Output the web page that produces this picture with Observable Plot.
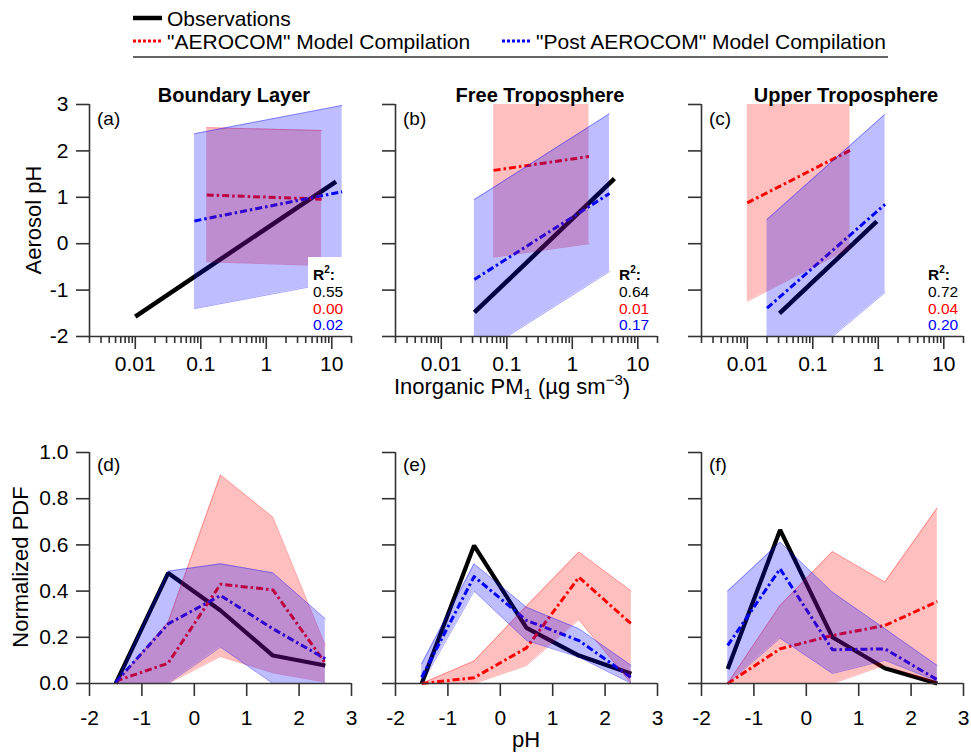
<!DOCTYPE html>
<html><head><meta charset="utf-8">
<script src="https://cdn.jsdelivr.net/npm/d3@7"></script>
<script src="https://cdn.jsdelivr.net/npm/@observablehq/plot@0.6"></script>
<style>
html,body{margin:0;padding:0;background:#fff;}
#root{position:relative;width:971px;height:752px;overflow:hidden;background:#fff;}
</style></head>
<body><div id="root"></div>
<script>
// ---------------- DATA ----------------
const regions = ["Boundary Layer", "Free Troposphere", "Upper Troposphere"];
const topLetters = ["(a)", "(b)", "(c)"];
const botLetters = ["(d)", "(e)", "(f)"];
const legendLabels = ["Observations", "\"AEROCOM\" Model Compilation", "\"Post AEROCOM\" Model Compilation"];
const r2Obs = ["0.55", "0.64", "0.72"];
const r2Aero = ["0.00", "0.01", "0.04"];
const r2Post = ["0.02", "0.17", "0.20"];

// Top row: linear fits of pH vs log10(inorganic PM1), endpoints per panel
const obsPM  = [[0.01, 11.6], [0.032, 4.4], [0.031, 0.95]];
const obsPH  = [[-1.57, 1.34], [-1.48, 1.40], [-1.50, 0.48]];
const aeroPM = [[0.123, 7.0], [0.063, 1.8], [0.010, 0.37]];
const aeroPH = [[1.05, 0.96], [1.58, 1.88], [0.88, 2.01]];
const aeroLo = [[-0.39, -0.47], [-0.29, 0.00], [-1.24, -0.10]];
const aeroHi = [[2.50, 2.44], [3.10, 3.10], [3.10, 3.10]];
const postPM = [[0.08, 14.4], [0.032, 3.7], [0.020, 1.27]];
const postPH = [[0.49, 1.12], [-0.77, 1.08], [-1.39, 0.85]];
const postLo = [[-1.40, -0.80], [-2.45, -0.60], [-3.19, -1.05]];
const postHi = [[2.37, 2.98], [0.95, 2.80], [0.52, 2.79]];

// Bottom row: normalized PDFs of pH
const pHBins = [-1.5, -0.5, 0.5, 1.5, 2.5];
const pdfObs    = [[0.00, 0.478, 0.316, 0.121, 0.078], [0.00, 0.597, 0.241, 0.121, 0.042], [0.063, 0.665, 0.200, 0.066, 0.00]];
const pdfAero   = [[0.01, 0.088, 0.430, 0.405, 0.088], [0.00, 0.025, 0.154, 0.460, 0.258], [0.00, 0.150, 0.208, 0.251, 0.355]];
const pdfAeroLo = [[0.00, 0.000, 0.117, 0.046, 0.006], [0.00, 0.000, 0.078, 0.276, 0.000], [0.00, 0.000, 0.000, 0.080, 0.000]];
const pdfAeroHi = [[0.00, 0.265, 0.903, 0.720, 0.165], [0.00, 0.097, 0.335, 0.569, 0.400], [0.00, 0.338, 0.571, 0.439, 0.760]];
const pdfPost   = [[0.005, 0.258, 0.381, 0.237, 0.107], [0.027, 0.463, 0.273, 0.186, 0.025], [0.165, 0.496, 0.146, 0.150, 0.016]];
const pdfPostLo = [[0.00, 0.000, 0.157, 0.000, 0.000], [0.00, 0.400, 0.186, 0.114, 0.000], [0.00, 0.196, 0.043, 0.100, 0.010]];
const pdfPostHi = [[0.00, 0.486, 0.518, 0.479, 0.280], [0.085, 0.518, 0.330, 0.237, 0.078], [0.40, 0.612, 0.395, 0.237, 0.078]];

// Axis ticks
const pmDomain = [0.002, 20];
const pmMajor = [0.01, 0.1, 1, 10];
const pmMinor = [0.002,0.003,0.004,0.005,0.006,0.007,0.008,0.009,0.02,0.03,0.04,0.05,0.06,0.07,0.08,0.09,
                 0.2,0.3,0.4,0.5,0.6,0.7,0.8,0.9,2,3,4,5,6,7,8,9,20];
const phTopTicks = [-2, -1, 0, 1, 2, 3];
const phBotTicks = [-2, -1, 0, 1, 2, 3];
const pdfTicks = [0, 0.2, 0.4, 0.6, 0.8, 1.0];

// ---------------- LAYOUT ----------------
const root = document.getElementById("root");
const FONT = '"Liberation Sans", Arial, Helvetica, sans-serif';
const FW = 262, ML = 80, MR = 16, MT = 10, MB = 50;
const frameLeft = [89, 395, 701];
const topFrameTop = 104, topFrameH = 232;
const botFrameTop = 452, botFrameH = 231;
const AX = "#333";
const RED = "#ff0000", BLUE = "#0000ff";
const DASH = "7,3,2.5,3";

function place(svg, left, top) {
  svg.style.position = "absolute";
  svg.style.left = left + "px";
  svg.style.top = top + "px";
  root.appendChild(svg);
}
const plotStyle = {background: "transparent", overflow: "visible", fontFamily: FONT, fontSize: "21px", color: "#000"};

function bandMarks(data, color, op, edgeOp) {
  return [
    Plot.areaY(data, {x: "x", y1: "lo", y2: "hi", fill: color, fillOpacity: op, clip: true}),
    Plot.line(data, {x: "x", y: "lo", stroke: color, strokeOpacity: edgeOp, strokeWidth: 1, clip: true}),
    Plot.line(data, {x: "x", y: "hi", stroke: color, strokeOpacity: edgeOp, strokeWidth: 1, clip: true})
  ];
}

function topPanel(i) {
  const obs = obsPM[i].map((x, j) => ({x, y: obsPH[i][j]}));
  const aero = aeroPM[i].map((x, j) => ({x, y: aeroPH[i][j], lo: aeroLo[i][j], hi: aeroHi[i][j]}));
  const post = postPM[i].map((x, j) => ({x, y: postPH[i][j], lo: postLo[i][j], hi: postHi[i][j]}));
  return Plot.plot({
    width: ML + FW + MR, height: MT + topFrameH + MB,
    marginLeft: ML, marginRight: MR, marginTop: MT, marginBottom: MB,
    style: plotStyle,
    x: {type: "log", domain: pmDomain},
    y: {domain: [-2, 3]},
    marks: [
      Plot.line(obs, {x: "x", y: "y", stroke: "#000", strokeWidth: 4.5, strokeLinecap: "butt", clip: true}),
      Plot.line(aero, {x: "x", y: "y", stroke: RED, strokeWidth: 3, strokeDasharray: DASH, strokeLinecap: "butt", clip: true}),
      Plot.line(post, {x: "x", y: "y", stroke: BLUE, strokeWidth: 3, strokeDasharray: DASH, strokeLinecap: "butt", clip: true}),
      ...bandMarks(aero, RED, 0.25, 0.3),
      ...bandMarks(post, BLUE, 0.26, 0.35),
      Plot.axisX({ticks: pmMinor, tickSize: 7, tickFormat: () => "", label: null, stroke: AX, strokeWidth: 1.6}),
      Plot.axisX({ticks: pmMajor, tickSize: 13, tickPadding: 7, tickFormat: d => String(d), label: null, stroke: AX, strokeWidth: 1.6}),
      Plot.axisY({ticks: phTopTicks, tickSize: 13, tickPadding: 8, tickFormat: i === 0 ? (d => String(d)) : (() => ""), label: null, stroke: AX, strokeWidth: 1.6}),
      Plot.ruleX([pmDomain[0]], {stroke: AX, strokeWidth: 1.6}),
      Plot.ruleY([-2], {stroke: AX, strokeWidth: 1.6})
    ]
  });
}

function botPanel(i) {
  const obs = pHBins.map((x, j) => ({x, y: pdfObs[i][j]}));
  const aero = pHBins.map((x, j) => ({x, y: pdfAero[i][j], lo: pdfAeroLo[i][j], hi: pdfAeroHi[i][j]}));
  const post = pHBins.map((x, j) => ({x, y: pdfPost[i][j], lo: pdfPostLo[i][j], hi: pdfPostHi[i][j]}));
  return Plot.plot({
    width: ML + FW + MR, height: MT + botFrameH + MB,
    marginLeft: ML, marginRight: MR, marginTop: MT, marginBottom: MB,
    style: plotStyle,
    x: {domain: [-2, 3]},
    y: {domain: [0, 1]},
    marks: [
      Plot.line(obs, {x: "x", y: "y", stroke: "#000", strokeWidth: 4.2, strokeLinejoin: "miter", strokeLinecap: "butt"}),
      Plot.line(aero, {x: "x", y: "y", stroke: RED, strokeWidth: 3, strokeDasharray: DASH, strokeLinecap: "butt"}),
      Plot.line(post, {x: "x", y: "y", stroke: BLUE, strokeWidth: 3, strokeDasharray: DASH, strokeLinecap: "butt"}),
      ...bandMarks(aero, RED, 0.25, 0.3),
      ...bandMarks(post, BLUE, 0.26, 0.35),
      Plot.axisX({ticks: phBotTicks, tickSize: 13, tickPadding: 14, tickFormat: d => String(d), label: null, stroke: AX, strokeWidth: 1.6}),
      Plot.axisY({ticks: pdfTicks, tickSize: 13, tickPadding: 8, tickFormat: i === 0 ? (d => d.toFixed(1)) : (() => ""), label: null, stroke: AX, strokeWidth: 1.6}),
      Plot.ruleX([-2], {stroke: AX, strokeWidth: 1.6}),
      Plot.ruleY([0], {stroke: AX, strokeWidth: 1.6})
    ]
  });
}

for (let i = 0; i < 3; i++) {
  place(topPanel(i), frameLeft[i] - ML, topFrameTop - MT);
  place(botPanel(i), frameLeft[i] - ML, botFrameTop - MT);
}

// ---------------- ANNOTATION LAYER ----------------
const ov = d3.create("svg").attr("width", 971).attr("height", 752)
  .style("position", "absolute").style("left", "0px").style("top", "0px")
  .style("font-family", FONT);

// Legend
const legLen = 29, legGap = 5;
const legendPos = [{x: 133, y: 18}, {x: 133, y: 41}, {x: 502, y: 41}];
const legendStyle = [{w: 4.5, dash: null}, {w: 3, dash: "3,2"}, {w: 3, dash: "3,2"}];
const seriesColors = ["#000", RED, BLUE];
legendLabels.forEach((lab, k) => {
  const p = legendPos[k];
  const ln = ov.append("line").attr("x1", p.x).attr("x2", p.x + legLen).attr("y1", p.y).attr("y2", p.y)
    .attr("stroke", seriesColors[k]).attr("stroke-width", legendStyle[k].w);
  if (legendStyle[k].dash) ln.attr("stroke-dasharray", legendStyle[k].dash);
  ov.append("text").attr("x", p.x + legLen + legGap).attr("y", p.y + 7.5).attr("font-size", 21).text(lab);
});
ov.append("line").attr("x1", 133).attr("x2", 888).attr("y1", 57).attr("y2", 57).attr("stroke", AX).attr("stroke-width", 1.6);

// Titles and panel letters
regions.forEach((r, i) => {
  ov.append("text").attr("x", frameLeft[i] + 145).attr("y", 102).attr("text-anchor", "middle")
    .attr("font-size", 20).attr("font-weight", "bold").text(r);
  ov.append("text").attr("x", frameLeft[i] + 8).attr("y", 125).attr("font-size", 19).text(topLetters[i]);
  ov.append("text").attr("x", frameLeft[i] + 8).attr("y", 471).attr("font-size", 19).text(botLetters[i]);
});

// R^2 annotations
const r2X = [313, 619, 928];
ov.append("rect").attr("x", 308).attr("y", 257).attr("width", 42).attr("height", 77).attr("fill", "#fff");
r2X.forEach((x, i) => {
  const t = ov.append("text").attr("x", x).attr("y", 280).attr("font-size", 15.5).attr("font-weight", "bold");
  t.append("tspan").text("R");
  t.append("tspan").attr("dy", -7).attr("font-size", 10).text("2");
  t.append("tspan").attr("dy", 7).text(":");
  ov.append("text").attr("x", x).attr("y", 297).attr("font-size", 15.5).attr("fill", "#000").text(r2Obs[i]);
  ov.append("text").attr("x", x).attr("y", 314).attr("font-size", 15.5).attr("fill", RED).text(r2Aero[i]);
  ov.append("text").attr("x", x).attr("y", 330).attr("font-size", 15.5).attr("fill", BLUE).text(r2Post[i]);
});

// Axis titles
ov.append("text").attr("transform", "translate(41,220) rotate(-90)").attr("text-anchor", "middle")
  .attr("font-size", 22).text("Aerosol pH");
ov.append("text").attr("transform", "translate(28,567) rotate(-90)").attr("text-anchor", "middle")
  .attr("font-size", 22).text("Normalized PDF");
const xt = ov.append("text").attr("x", 512).attr("y", 394).attr("text-anchor", "middle").attr("font-size", 22);
xt.append("tspan").text("Inorganic PM");
xt.append("tspan").attr("dy", 5).attr("font-size", 15).text("1");
xt.append("tspan").attr("dy", -5).text(" (µg sm");
xt.append("tspan").attr("dy", -9).attr("font-size", 15).text("\u22123");
xt.append("tspan").attr("dy", 9).text(")");
ov.append("text").attr("x", 526).attr("y", 747).attr("text-anchor", "middle").attr("font-size", 22).text("pH");

root.appendChild(ov.node());
</script>
</body></html>
